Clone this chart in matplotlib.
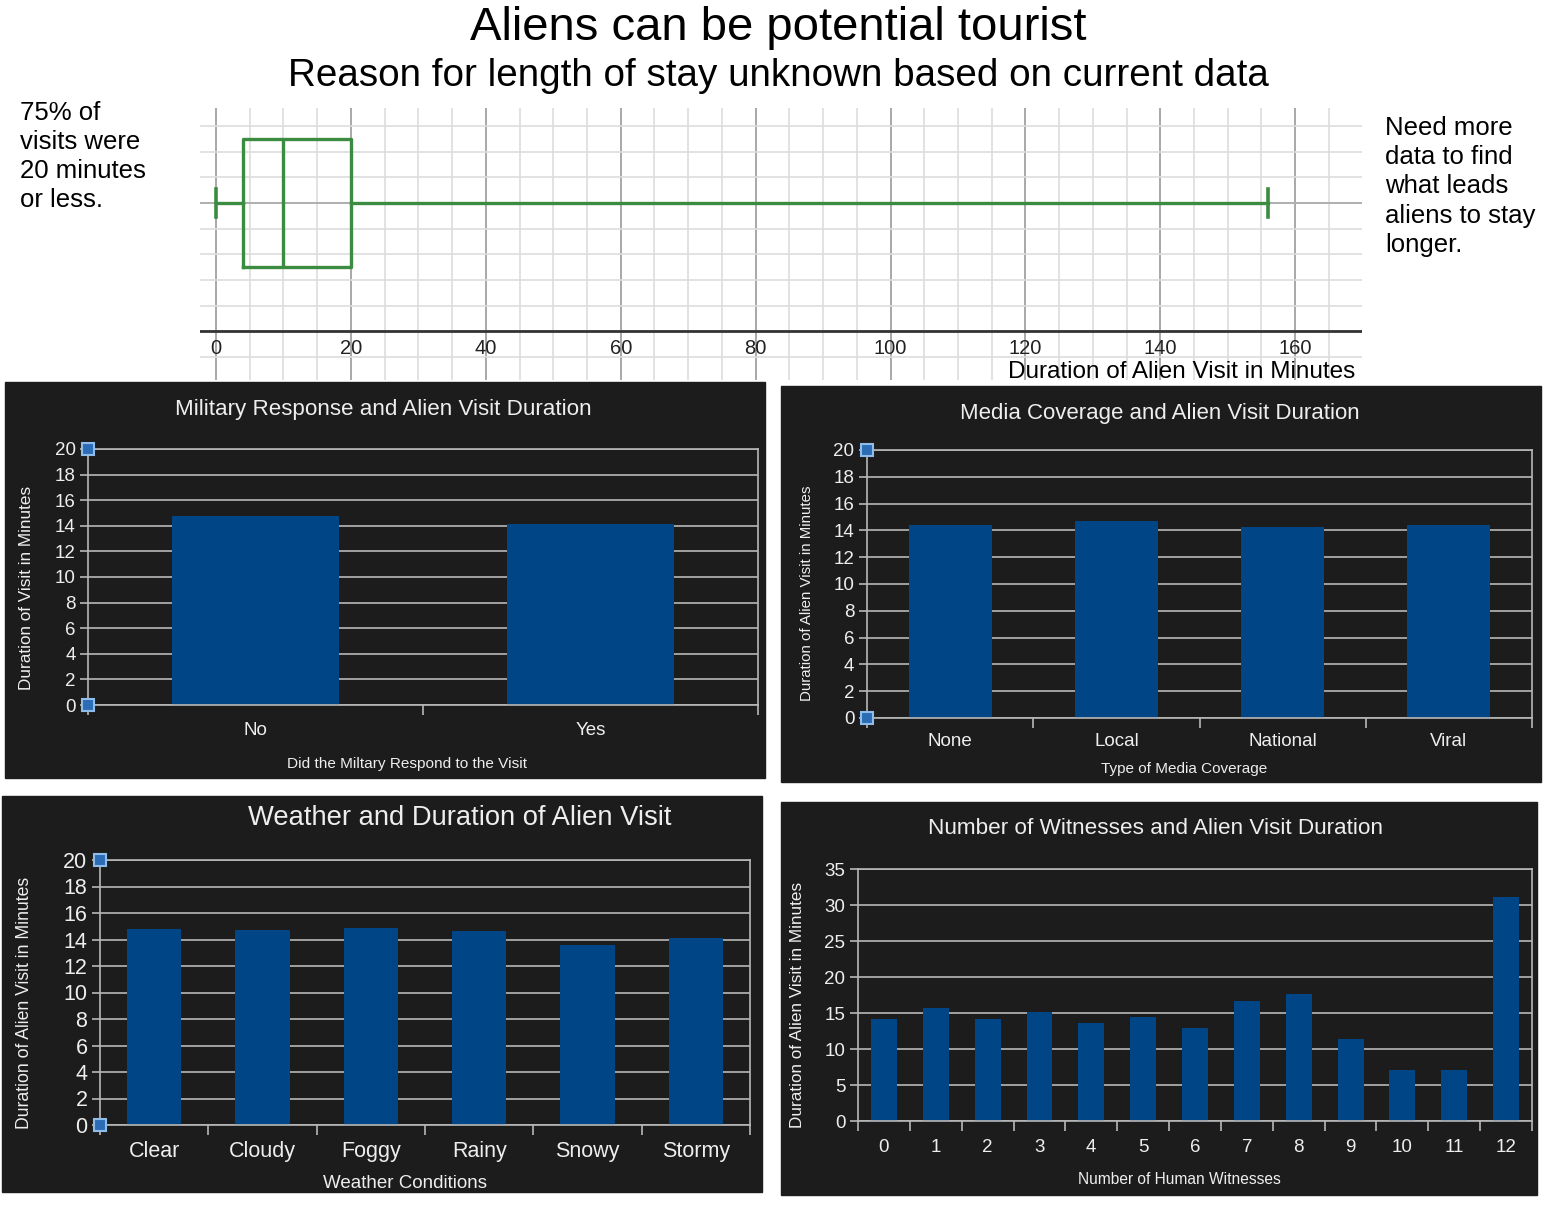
import numpy as np
import matplotlib
matplotlib.use('Agg')
import matplotlib.pyplot as plt
from matplotlib.patches import Rectangle

# summary of visit durations (minutes)
box_stats = dict(whislo=0, q1=4, med=10, q3=20, whishi=156)

military_cats = ['No', 'Yes']
military_vals = [14.8, 14.15]

media_cats = ['None', 'Local', 'National', 'Viral']
media_vals = [14.4, 14.68, 14.24, 14.4]

weather_cats = ['Clear', 'Cloudy', 'Foggy', 'Rainy', 'Snowy', 'Stormy']
weather_vals = [14.79, 14.72, 14.87, 14.67, 13.58, 14.09]

witness_cats = [str(i) for i in range(13)]
witness_vals = [14.2, 15.74, 14.13, 15.1, 13.6, 14.45, 12.9, 16.67, 17.6, 11.4, 7.06, 7.06, 31.1]

W, H = 1556, 1210
BG = '#1c1c1c'
BAR = '#004586'
GRID = '#b8b8b8'
TXT = '#eeeeee'
GREEN = '#3b8b40'
REG = ['Liberation Sans', 'DejaVu Sans']

plt.rcParams['font.family'] = REG

fig = plt.figure(figsize=(W / 100, H / 100), dpi=100)
fig.patch.set_facecolor('white')


def axes_px(x0, y0, x1, y1):
    return fig.add_axes([x0 / W, 1 - y1 / H, (x1 - x0) / W, (y1 - y0) / H])


def text_px(x, y, s, **kw):
    return fig.text(x / W, 1 - y / H, s, **kw)


# ---- top: titles and box plot ----
text_px(778, 28, 'Aliens can be potential tourist', ha='center', va='center', fontsize=34)
text_px(778, 76, 'Reason for length of stay unknown based on current data', ha='center', va='center', fontsize=27.8)

text_px(20, 101, '75% of\nvisits were\n20 minutes\nor less.', ha='left', va='top',
        fontsize=18.5, linespacing=1.27)
text_px(1385, 116, 'Need more\ndata to find\nwhat leads\naliens to stay\nlonger.', ha='left', va='top',
        fontsize=18.5, linespacing=1.275)

bax = axes_px(200, 108, 1362, 380)
major = np.arange(0, 161, 20)
bax.set_xticks(major)
bax.set_xticks(np.arange(0, 166, 5), minor=True)
bax.set_yticks(np.arange(-6, 4, 1))
bax.grid(which='minor', axis='x', color='#dddddd', lw=1.2)
bax.grid(which='major', axis='x', color='#999999', lw=1.2)
bax.grid(which='major', axis='y', color='#dddddd', lw=1.2)
bax.axhline(0, color='#a8a8a8', lw=1.2, zorder=1)
bax.axhline(-5, color='#333333', lw=2, zorder=2)
for sp in bax.spines.values():
    sp.set_visible(False)
bax.set_axisbelow(True)
bstat = dict(box_stats, fliers=[])
bax.bxp([bstat], positions=[0], widths=5, capwidths=[1.1], vert=False,
        showfliers=False, patch_artist=False,
        boxprops=dict(color=GREEN, lw=2.4),
        medianprops=dict(color=GREEN, lw=2.4),
        whiskerprops=dict(color=GREEN, lw=2.4),
        capprops=dict(color=GREEN, lw=2.6))
bax.set_xlim(-2.37, 169.9)
bax.set_ylim(-6.9, 3.7)
bax.tick_params(which='both', length=0, labelbottom=False, labelleft=False)
for v in major:
    bax.text(v, -5.3, str(v), ha='center', va='top', fontsize=14.5, color='#222222')
text_px(1355, 372, 'Duration of Alien Visit in Minutes', ha='right', va='center', fontsize=17.5)


# ---- dark bar panels ----
def bar_panel(panel, plot, cats, vals, ymax, ystep, title, title_xy, title_size,
              xlabel, xlabel_xy, ylabel, ylabel_xy, ylabel_size, tick_size, xlab_size,
              xpad, handles=True):
    x0, y0, x1, y1 = panel
    fig.add_artist(Rectangle((x0 / W, 1 - y1 / H), (x1 - x0) / W, (y1 - y0) / H,
                             transform=fig.transFigure, color=BG, zorder=0))
    ax = axes_px(*plot)
    ax.set_facecolor('none')
    n = len(cats)
    x = np.arange(n)
    ax.bar(x, vals, width=0.5, color=BAR, zorder=2)
    ax.set_xlim(-0.5, n - 0.5)
    ax.set_ylim(0, ymax)
    ax.set_yticks(np.arange(0, ymax + 1, ystep))
    ax.yaxis.grid(True, color=GRID, lw=1.2)
    ax.set_axisbelow(True)
    ax.set_xticks(x)
    ax.set_xticklabels(cats)
    ax.set_xticks(np.arange(-0.5, n), minor=True)
    ax.tick_params(axis='x', which='major', length=0, pad=xpad, labelsize=tick_size, labelcolor=TXT)
    ax.tick_params(axis='x', which='minor', length=7, color=GRID, width=1.2)
    ax.tick_params(axis='y', length=6, color=GRID, width=1.2, pad=3, labelsize=tick_size, labelcolor=TXT)
    for sp in ax.spines.values():
        sp.set_color(GRID)
        sp.set_linewidth(1.2)
    if handles:
        ax.plot([-0.5, -0.5], [0, ymax], ls='none', marker='s', ms=8, mfc='#2b6cb5',
                mec='#8fbce8', mew=1.5, clip_on=False, zorder=5)
    text_px(*title_xy, title, ha='center', va='center', fontsize=title_size, color=TXT)
    text_px(*xlabel_xy, xlabel, ha='center', va='center', fontsize=xlab_size, color=TXT)
    text_px(*ylabel_xy, ylabel, ha='center', va='center', rotation=90, fontsize=ylabel_size,
            color=TXT)
    return ax


bar_panel((5, 382, 765, 778), (88, 449, 758, 705), military_cats, military_vals, 20, 2,
          'Military Response and Alien Visit Duration', (383, 409), 16.1,
          'Did the Miltary Respond to the Visit', (407, 764),
          'Duration of Visit in Minutes', (27, 588), 12.3, 13.5, 11.1, 12)

bar_panel((781, 386, 1541, 782), (867, 450, 1532, 718), media_cats, media_vals, 20, 2,
          'Media Coverage and Alien Visit Duration', (1160, 414), 16,
          'Type of Media Coverage', (1184, 769),
          'Duration of Alien Visit in Minutes', (807, 593), 10.8, 13.5, 11, 10.5)

bar_panel((2, 796, 762, 1192), (100, 860, 750, 1125), weather_cats, weather_vals, 20, 2,
          'Weather and Duration of Alien Visit', (460, 818), 19.7,
          'Weather Conditions', (405, 1184),
          'Duration of Alien Visit in Minutes', (25, 1003), 12.7, 15.5, 13.5, 11.5)

bar_panel((781, 802, 1537, 1195), (858, 869, 1532, 1121), witness_cats, witness_vals, 35, 5,
          'Number of Witnesses and Alien Visit Duration', (1155, 829), 16.2,
          'Number of Human Witnesses', (1179, 1179),
          'Duration of Alien Visit in Minutes', (797, 1005), 12.3, 13.5, 11.2, 13, handles=False)

fig.savefig('out.png', dpi=100, facecolor='white')
